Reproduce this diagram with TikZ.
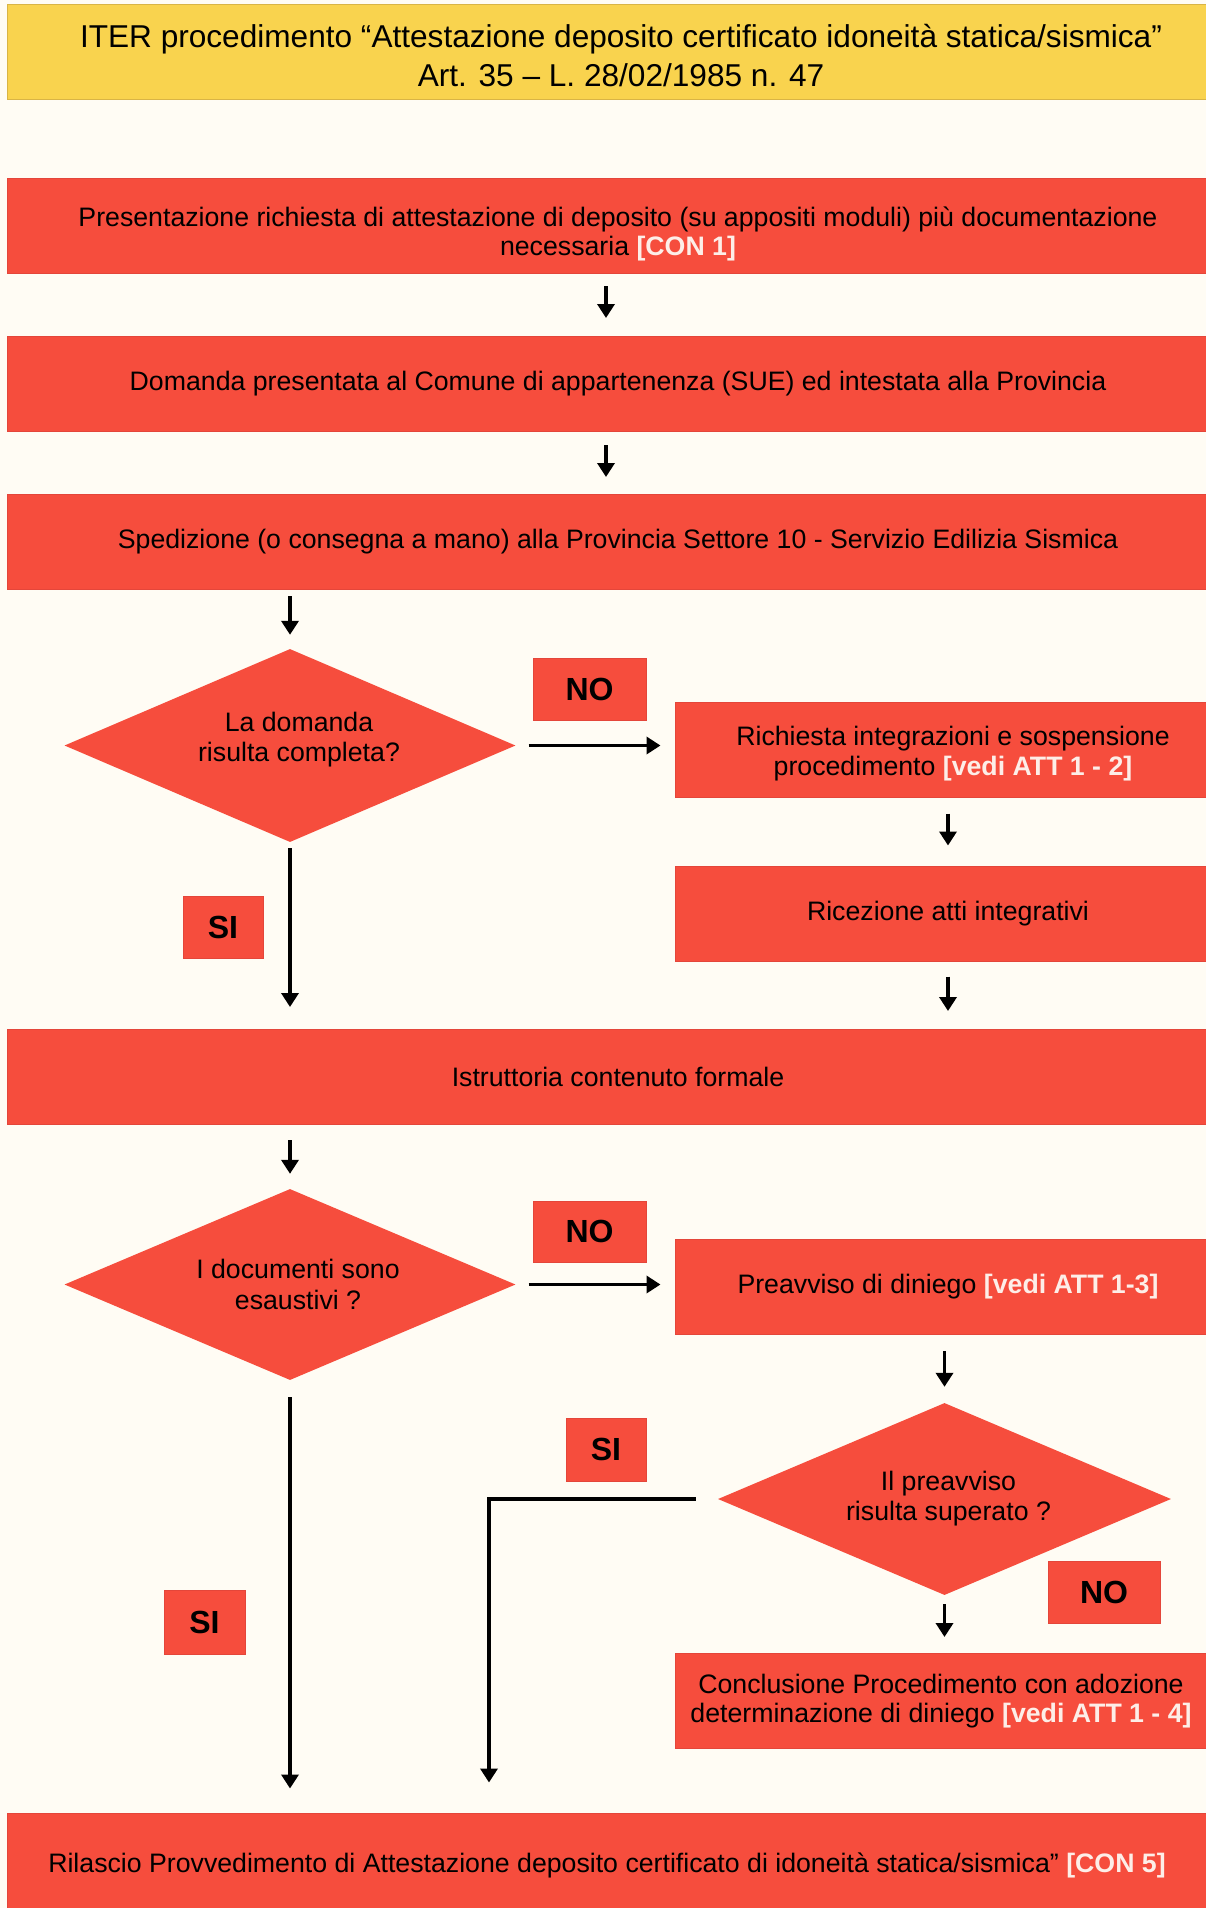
\documentclass[tikz,border=0pt]{standalone}
\usepackage{fontspec}
\setmainfont{Liberation Sans}
\usetikzlibrary{shapes.geometric,arrows.meta}
\definecolor{bg}{HTML}{FFFCF4}
\definecolor{boxred}{HTML}{F64D3D}
\definecolor{edgered}{HTML}{E4463A}
\definecolor{titleyellow}{HTML}{F9D34E}
\definecolor{titleedge}{HTML}{D9B445}
\definecolor{reftext}{HTML}{FDEEE8}
\newcommand\attref[1]{{\color{reftext}\bfseries #1}}

\begin{document}
\begin{tikzpicture}[x=1pt,y=-1pt,
  every node/.style={font=\fontsize{26.7}{29.5}\selectfont, text=black},
  stepbox/.style={rectangle, fill=boxred, draw=edgered, line width=1pt,
    minimum height=95pt, inner sep=0pt, align=center},
  wide/.style={stepbox, minimum width=1222pt},
  side/.style={stepbox, minimum width=546pt},
  decision/.style={diamond, fill=boxred, draw=none, inner sep=0pt,
    align=center, shape aspect=2.34},
  caption/.style={align=center, inner sep=0pt},
  tag/.style={rectangle, fill=boxred, draw=edgered, line width=1pt,
    inner sep=0pt, font=\fontsize{32}{32}\selectfont\bfseries},
  arr/.style={line width=3.6pt, -{Triangle[width=17pt,length=14pt]}}
]
% page and background
\fill[bg] (0,0) rectangle (1206,1908);
\useasboundingbox (0,0) rectangle (1206,1908);

% title
\node[rectangle, fill=titleyellow, draw=titleedge, line width=1pt,
  minimum width=1228pt, minimum height=95pt, inner sep=0pt] (title) at (621,52.5) {};
\node[caption, font=\fontsize{31.6}{39}\selectfont] (titletext) at ([yshift=-3pt]title.center)
  {ITER procedimento “Attestazione deposito certificato idoneità statica/sismica”\\
   Art. 35 – L. 28/02/1985 n. 47};

% main column
\node[wide] (b1) at (618,226) {};
\node[caption] (b1text) at ([yshift=-8pt]b1.center)
  {Presentazione richiesta di attestazione di deposito (su appositi moduli) più documentazione\\
   necessaria \attref{[CON 1]}};
\node[wide] (b2) at (618,384)
  {Domanda presentata al Comune di appartenenza (SUE) ed intestata alla Provincia};
\node[wide] (b3) at (618,542)
  {Spedizione (o consegna a mano) alla Provincia Settore 10 - Servizio Edilizia Sismica};
\node[decision, minimum width=451pt, minimum height=193pt] (d1) at (290,745.5) {};
\node[caption, font=\fontsize{26.7}{30}\selectfont] (d1text) at ([xshift=9pt,yshift=6pt]d1.center)
  {La domanda\\ risulta completa?};
\node[wide] (b4) at (618,1077)
  {Istruttoria contenuto formale};
\node[decision, minimum width=451pt, minimum height=191pt] (d2) at (290,1284.5) {};
\node[caption, font=\fontsize{26.7}{31}\selectfont] (d2text) at ([xshift=8pt]d2.center)
  {I documenti sono\\ esaustivi ?};
\node[stepbox, minimum width=1200pt, minimum height=98pt] (b5) at (607,1862) {};
\node[caption] (b5text) at ([yshift=-3pt]b5.center)
  {Rilascio Provvedimento di Attestazione deposito certificato di idoneità statica/sismica” \attref{[CON 5]}};

% right column
\node[side] (r1) at (948,749.5) {};
\node[caption] (r1text) at ([xshift=5pt,yshift=-4pt]r1.center)
  {Richiesta integrazioni e sospensione\\ procedimento \attref{[vedi ATT 1 - 2]}};
\node[side] (r2) at (948,913.5)
  {Ricezione atti integrativi};
\node[side] (r3) at (948,1287)
  {Preavviso di diniego \attref{[vedi ATT 1-3]}};
\node[decision, minimum width=453pt, minimum height=192pt] (d3) at (944.5,1499) {};
\node[caption, font=\fontsize{26.7}{30}\selectfont] (d3text) at ([xshift=4pt]d3.center)
  {Il preavviso\\ risulta superato ?};
\node[side] (r4) at (948,1701) {};
\node[caption] (r4text) at ([xshift=-7pt]r4.center)
  {Conclusione Procedimento con adozione\\ determinazione di diniego \attref{[vedi ATT 1 - 4]}};

% answer tags
\node[tag, minimum width=113pt, minimum height=62pt] (no1) at (589.5,689) {NO};
\node[tag, minimum width=80pt, minimum height=62pt] (si1) at (223,927) {SI};
\node[tag, minimum width=113pt, minimum height=61pt] (no2) at (589.5,1231.5) {NO};
\node[tag, minimum width=80pt, minimum height=63pt] (si2) at (606,1449.5) {SI};
\node[tag, minimum width=112pt, minimum height=62pt] (no3) at (1104,1592) {NO};
\node[tag, minimum width=81pt, minimum height=64pt] (si3) at (204.5,1622) {SI};

% connectors
\draw[arr, shorten <=12pt, shorten >=18pt] ([xshift=-12pt]b1.south) -- ([xshift=-12pt]b2.north);
\draw[arr, shorten <=13pt, shorten >=17pt] ([xshift=-12pt]b2.south) -- ([xshift=-12pt]b3.north);
\draw[arr, shorten <=6pt, shorten >=14pt] (d1.north |- b3.south) -- (d1.north);
\draw[arr, shorten <=13pt, shorten >=14pt] (d1.east) -- (d1.east -| r1.west);
\draw[arr, shorten <=6pt, shorten >=22pt] (d1.south) -- (d1.south |- b4.north);
\draw[arr, shorten <=16pt, shorten >=20pt] (r1.south) -- (r2.north);
\draw[arr, shorten <=15pt, shorten >=18pt] (r2.south) -- (r2.south |- b4.north);
\draw[arr, shorten <=15pt, shorten >=15pt] (d2.north |- b4.south) -- (d2.north);
\draw[arr, shorten <=13pt, shorten >=14pt] (d2.east) -- (d2.east -| r3.west);
\draw[arr, shorten <=16pt, shorten >=16pt] (d3.north |- r3.south) -- (d3.north);
\draw[arr, shorten <=9pt, shorten >=16pt] (d3.south) -- (d3.south |- r4.north);
\draw[arr, shorten <=17pt, shorten >=24pt] (d2.south) -- (d2.south |- b5.north);
\coordinate (bend) at (489,1499);
\draw[arr, shorten <=22pt, shorten >=30pt] (d3.west) -- (bend) -- (bend |- b5.north);
\end{tikzpicture}
\end{document}
